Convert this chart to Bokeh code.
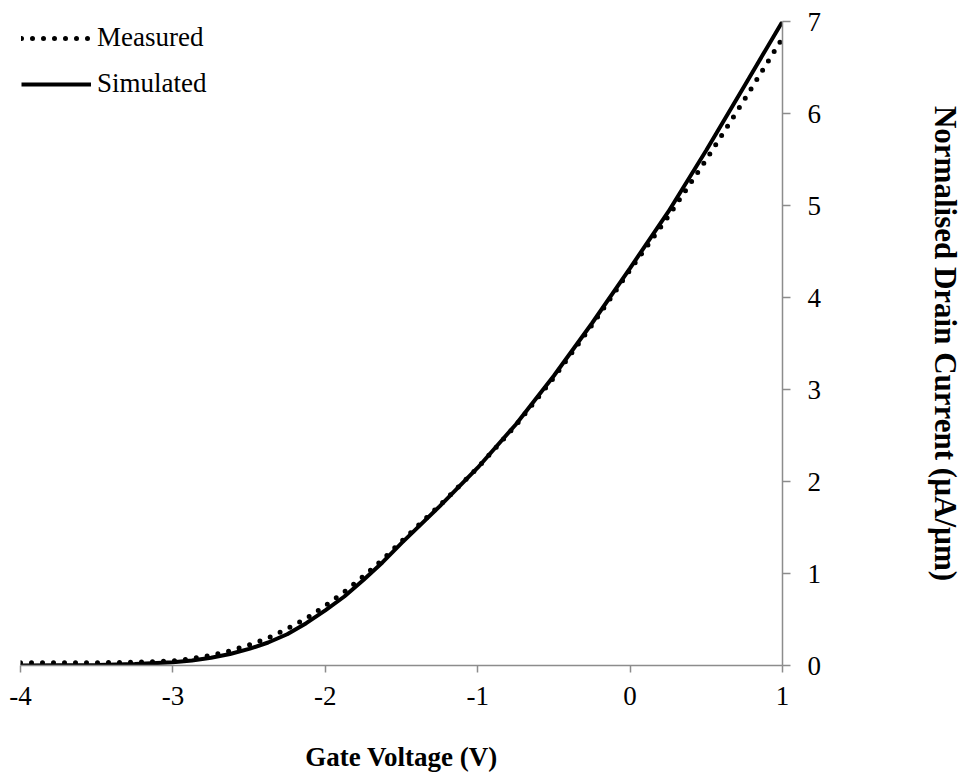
from bokeh.plotting import figure
from bokeh.models import Range1d, LinearAxis, FixedTicker, Legend, LegendItem
from bokeh.embed import file_html
from bokeh.resources import INLINE

# Gate voltage (V)
gate_v = [-4, -3.5, -3.25, -3, -2.875, -2.75, -2.625, -2.5, -2.375, -2.25, -2.125,
          -2, -1.875, -1.75, -1.625, -1.5, -1.25, -1, -0.75, -0.5, -0.25,
          0, 0.25, 0.5, 0.75, 1]
# Normalised drain current (uA/um)
measured = [0.03, 0.03, 0.035, 0.05, 0.075, 0.11, 0.16, 0.225, 0.30, 0.40, 0.51,
            0.65, 0.80, 0.97, 1.15, 1.35, 1.74, 2.15, 2.61, 3.13, 3.70,
            4.30, 4.88, 5.50, 6.15, 6.82]
simulated = [0.0, 0.005, 0.015, 0.035, 0.055, 0.085, 0.125, 0.18, 0.25, 0.34, 0.46,
             0.60, 0.75, 0.93, 1.12, 1.33, 1.73, 2.15, 2.62, 3.15, 3.72,
             4.32, 4.93, 5.60, 6.30, 7.0]
x_ticks = [-4, -3, -2, -1, 0, 1]
x_tick_labels = ["-4", "-3", "-2", "-1", "0", "1"]
y_ticks = [0, 1, 2, 3, 4, 5, 6, 7]

SERIF = "Liberation Serif"
AXIS_COLOR = "#8c8c8c"

p = figure(frame_width=762, frame_height=644,
           x_range=Range1d(-4, 1), y_range=Range1d(0, 7),
           output_backend="svg", toolbar_location=None,
           x_axis_location=None, y_axis_location=None,
           min_border_left=20, min_border_top=21,
           min_border_right=183, min_border_bottom=108)
p.outline_line_color = None
p.xgrid.visible = False
p.ygrid.visible = False
p.background_fill_color = "white"
p.border_fill_color = "white"

xaxis = LinearAxis(ticker=FixedTicker(ticks=x_ticks))
xaxis.axis_label = "Gate Voltage (V)"
xaxis.major_label_overrides = {t: s for t, s in zip(x_ticks, x_tick_labels)}
yaxis = LinearAxis(ticker=FixedTicker(ticks=y_ticks))
yaxis.axis_label = "Normalised Drain Current (µA/µm)"

for ax in (xaxis, yaxis):
    ax.axis_line_color = AXIS_COLOR
    ax.axis_line_width = 1.5
    ax.major_tick_line_color = AXIS_COLOR
    ax.major_tick_line_width = 1.5
    ax.major_tick_in = 0
    ax.minor_tick_line_color = None
    ax.major_label_text_font = SERIF
    ax.major_label_text_font_size = "27px"
    ax.major_label_text_color = "black"
    ax.axis_label_text_font = SERIF
    ax.axis_label_text_font_style = "bold"
    ax.axis_label_text_color = "black"

xaxis.major_tick_out = 7
xaxis.major_label_standoff = 14
xaxis.axis_label_text_font_size = "27px"
xaxis.axis_label_standoff = 34

yaxis.major_tick_out = 8
yaxis.major_label_standoff = 17
yaxis.axis_label_text_font_size = "31px"
yaxis.axis_label_standoff = 104

p.add_layout(xaxis, "below")
p.add_layout(yaxis, "right")

r_meas = p.line(gate_v, measured, line_color="black", line_width=5,
                line_dash="0 11", line_cap="round")
r_sim = p.line(gate_v, simulated, line_color="black", line_width=4)

legend = Legend(items=[LegendItem(label="Measured", renderers=[r_meas]),
                       LegendItem(label="Simulated", renderers=[r_sim])],
                location="top_left")
legend.label_text_font = SERIF
legend.label_text_font_size = "27px"
legend.label_text_color = "black"
legend.glyph_width = 70
legend.glyph_height = 30
legend.label_height = 30
legend.spacing = 15
legend.padding = 1
legend.margin = 0
legend.label_standoff = 6
legend.background_fill_alpha = 0
legend.border_line_alpha = 0
p.add_layout(legend)

open("out.html", "w").write(file_html(p, INLINE))
